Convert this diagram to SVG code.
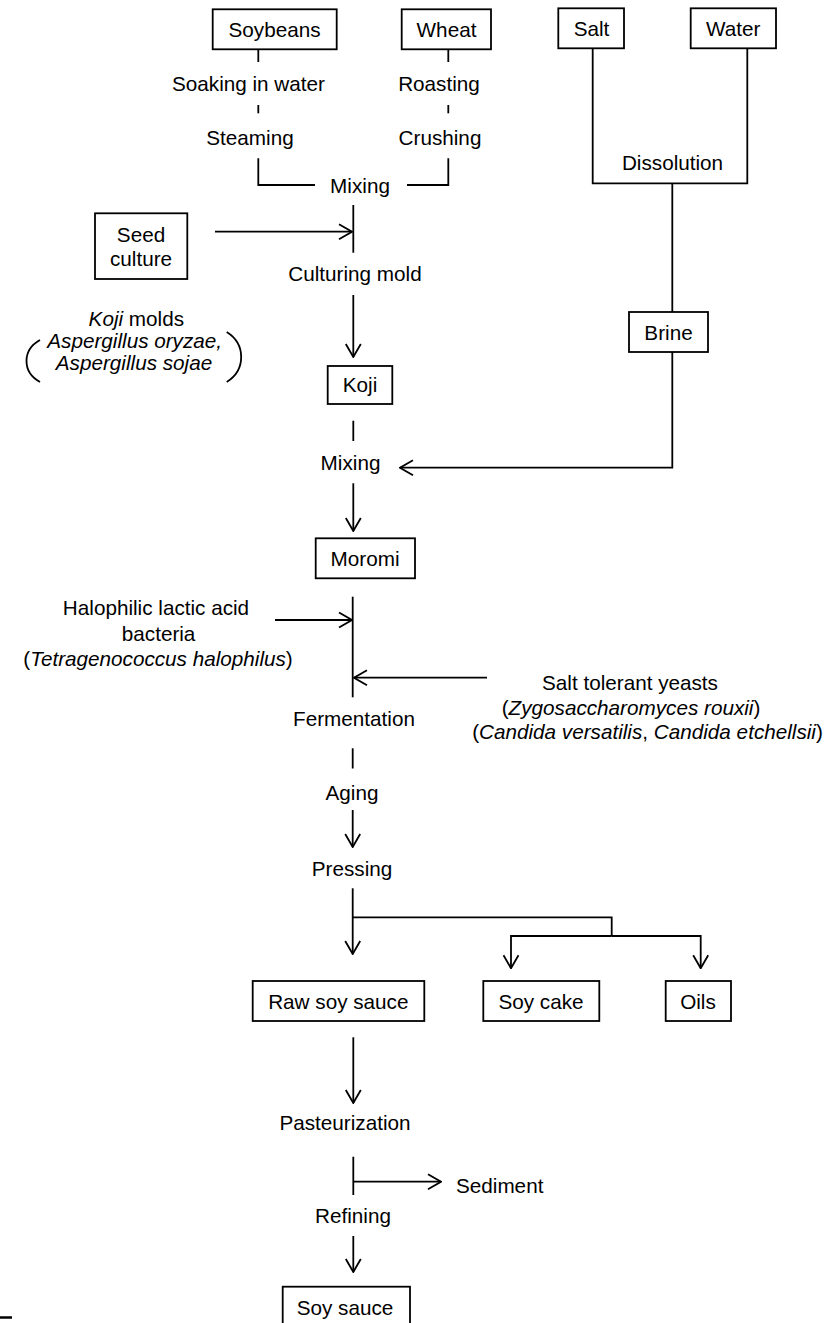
<svg xmlns="http://www.w3.org/2000/svg" width="826" height="1323" viewBox="0 0 826 1323">
  <defs>
    <style>
      .box { fill: #fff; stroke: #000; stroke-width: 1.8; }
      .ln { fill: none; stroke: #000; stroke-width: 1.8; }
      .arr { marker-end: url(#ah); }
      text { font-family: "Liberation Sans", Arial, Helvetica, sans-serif; font-size: 20.7px; fill: #000; text-anchor: middle; }
      .it { font-style: italic; }
    </style>
    <marker id="ah" viewBox="0 0 15 18" refX="14" refY="9" markerWidth="15" markerHeight="18" markerUnits="userSpaceOnUse" orient="auto">
      <path d="M1,1.5 L14,9 L1,16.5" fill="none" stroke="#000" stroke-width="1.8"/>
    </marker>
  </defs>
  <rect width="826" height="1323" fill="#fff"/>

  <!-- connectors -->
  <g id="connectors">
    <path class="ln" d="M258.3,49.3 V62"/>
    <path class="ln" d="M258.3,105 V113.3"/>
    <path class="ln" d="M258.3,158.3 V185 H315"/>
    <path class="ln" d="M407,185 H448.3 V158.3"/>
    <path class="ln" d="M448.3,49.3 V62"/>
    <path class="ln" d="M448.3,105 V113.3"/>
    <path class="ln" d="M592.7,48.3 V183.3 H747.3 V48.3"/>
    <path class="ln" d="M672.3,183.3 V312"/>
    <path class="ln" d="M353.3,205 V252.7"/>
    <path class="ln arr" d="M215,231.7 H352"/>
    <path class="ln arr" d="M353.3,295 V357"/>
    <path class="ln" d="M353.3,420.7 V441"/>
    <path class="ln arr" d="M672.3,352 V467.7 H400"/>
    <path class="ln arr" d="M353.3,483.3 V531"/>
    <path class="ln" d="M352.7,596.7 V697.3"/>
    <path class="ln arr" d="M275,620 H352"/>
    <path class="ln arr" d="M487,677.7 H354"/>
    <path class="ln" d="M352.7,748.3 V768.5"/>
    <path class="ln arr" d="M352.7,810 V847"/>
    <path class="ln arr" d="M352.7,888.3 V954"/>
    <path class="ln" d="M352.7,917.3 H611.7 V936"/>
    <path class="ln arr" d="M611.7,936 H511 V968.3"/>
    <path class="ln arr" d="M611.7,936 H700.7 V968.3"/>
    <path class="ln arr" d="M353.3,1037.3 V1103"/>
    <path class="ln" d="M353.3,1156.7 V1195"/>
    <path class="ln arr" d="M353.3,1181.7 H441"/>
    <path class="ln arr" d="M353.3,1236 V1272"/>
  </g>

  <!-- raw materials -->
  <g id="soybeans"><rect class="box" x="212.7" y="9.3" width="124" height="40"/><text x="274.5" y="37">Soybeans</text></g>
  <g id="wheat"><rect class="box" x="401.7" y="9.3" width="89.3" height="40"/><text x="446.5" y="37">Wheat</text></g>
  <g id="salt"><rect class="box" x="558.3" y="8.3" width="65.7" height="40"/><text x="591.5" y="36">Salt</text></g>
  <g id="water"><rect class="box" x="690.7" y="8.3" width="85.3" height="40"/><text x="733.3" y="36">Water</text></g>

  <!-- pretreatment steps -->
  <g id="soaking"><text x="248.5" y="90.5">Soaking in water</text></g>
  <g id="roasting"><text x="439" y="90.5">Roasting</text></g>
  <g id="steaming"><text x="250" y="145">Steaming</text></g>
  <g id="crushing"><text x="440" y="145">Crushing</text></g>
  <g id="mixing1"><text x="360" y="192.5">Mixing</text></g>
  <g id="dissolution"><text x="672.5" y="170">Dissolution</text></g>

  <!-- koji making -->
  <g id="seed-culture"><rect class="box" x="95" y="213.3" width="92.3" height="65.7"/><text x="141" y="241.5">Seed</text><text x="141" y="265.5">culture</text></g>
  <g id="koji-molds">
    <text x="136.3" y="326"><tspan class="it">Koji</tspan> molds</text>
    <text class="it" x="134.7" y="348">Aspergillus oryzae,</text>
    <text class="it" x="134" y="369.5">Aspergillus sojae</text>
    <path class="ln" d="M40,340 C22,350 22,372 40,382" stroke-width="1.6"/>
    <path class="ln" d="M226.7,332 C246,344 246,370 226.7,382" stroke-width="1.6"/>
  </g>
  <g id="culturing"><text x="355" y="280.5">Culturing mold</text></g>
  <g id="koji"><rect class="box" x="327.7" y="366" width="64.6" height="38"/><text x="360" y="392">Koji</text></g>
  <g id="brine"><rect class="box" x="629" y="312" width="79" height="40"/><text x="668.5" y="340">Brine</text></g>
  <g id="mixing2"><text x="350.5" y="470">Mixing</text></g>
  <g id="moromi"><rect class="box" x="315.7" y="538.3" width="99.3" height="40"/><text x="365" y="566">Moromi</text></g>

  <!-- fermentation -->
  <g id="lactic-bacteria">
    <text x="156" y="615">Halophilic lactic acid</text>
    <text x="158.6" y="640.5">bacteria</text>
    <text x="158" y="665.5">(<tspan class="it">Tetragenococcus halophilus</tspan>)</text>
  </g>
  <g id="yeasts">
    <text x="630" y="690">Salt tolerant yeasts</text>
    <text x="631" y="714.5">(<tspan class="it">Zygosaccharomyces rouxii</tspan>)</text>
    <text x="647.5" y="739">(<tspan class="it">Candida versatilis</tspan>, <tspan class="it">Candida etchellsii</tspan>)</text>
  </g>
  <g id="fermentation"><text x="354" y="725.5">Fermentation</text></g>
  <g id="aging"><text x="352" y="800">Aging</text></g>
  <g id="pressing"><text x="352" y="876">Pressing</text></g>

  <!-- products -->
  <g id="raw-soy-sauce"><rect class="box" x="252.7" y="981" width="171.6" height="40"/><text x="338.3" y="1008.5">Raw soy sauce</text></g>
  <g id="soy-cake"><rect class="box" x="483.3" y="981" width="116" height="40"/><text x="541" y="1008.5">Soy cake</text></g>
  <g id="oils"><rect class="box" x="665.7" y="981" width="65.3" height="40"/><text x="698" y="1008.5">Oils</text></g>
  <g id="pasteurization"><text x="345" y="1130">Pasteurization</text></g>
  <g id="sediment"><text x="499.7" y="1192.5">Sediment</text></g>
  <g id="refining"><text x="353" y="1223">Refining</text></g>
  <g id="soy-sauce"><rect class="box" x="282.7" y="1286.7" width="127.3" height="40"/><text x="345" y="1315">Soy sauce</text></g>

  <!-- edge mark -->
  <line x1="0" y1="1317.5" x2="12" y2="1317.5" stroke="#000" stroke-width="2.5"/>
</svg>
